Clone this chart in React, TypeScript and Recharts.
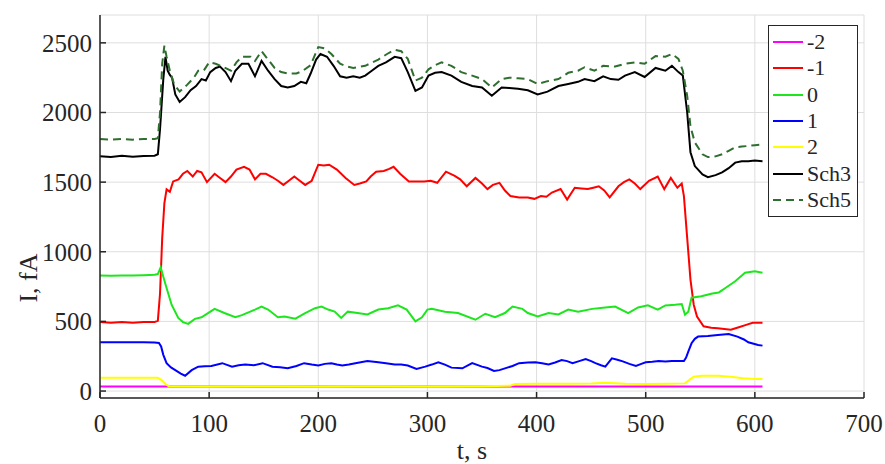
import React from 'react';
import { LineChart, Line, XAxis, YAxis, CartesianGrid, Legend } from 'recharts';

// time stamps (s) and currents (fA), one pair per series
const sch3T = [0, 10, 20, 30, 40, 50, 53, 55, 58, 60, 62, 64, 66, 69, 73, 78, 83, 88, 93, 97, 101, 106, 110, 115, 120, 124, 130, 136, 142, 148, 154, 160, 166, 172, 178, 184, 189, 193, 198, 202, 208, 214, 220, 226, 232, 238, 243, 249, 255, 262, 270, 276, 282, 289, 295, 301, 307, 313, 322, 331, 341, 350, 359, 368, 375, 383, 392, 401, 410, 420, 429, 438, 444, 453, 461, 468, 475, 481, 490, 499, 509, 518, 524, 530, 534, 538, 541, 545, 552, 557, 564, 570, 576, 582, 588, 594, 600, 607];
const sch3I = [1685, 1680, 1690, 1682, 1688, 1690, 1700, 1880, 2240, 2400, 2300, 2270, 2250, 2130, 2075, 2110, 2160, 2190, 2240, 2230, 2290, 2320, 2330, 2290, 2225, 2300, 2350, 2350, 2260, 2370, 2300, 2240, 2190, 2180, 2190, 2220, 2210, 2280, 2380, 2420, 2400, 2335, 2260, 2250, 2260, 2250, 2265, 2300, 2335, 2360, 2400, 2390, 2290, 2155, 2180, 2265, 2285, 2290, 2265, 2220, 2190, 2180, 2120, 2180, 2175, 2170, 2160, 2130, 2150, 2190, 2205, 2220, 2240, 2225, 2260, 2240, 2235, 2265, 2290, 2255, 2320, 2300, 2335, 2290, 2265, 2000, 1715, 1615, 1555, 1535, 1550, 1570, 1600, 1640, 1650, 1650, 1655, 1650];

const sch5T = [0, 10, 20, 30, 40, 50, 53, 55, 57, 59, 61, 64, 68, 73, 80, 86, 90, 95, 100, 106, 112, 120, 125, 130, 138, 142, 148, 154, 160, 166, 172, 180, 186, 193, 200, 206, 212, 220, 226, 232, 243, 255, 263, 270, 276, 282, 289, 295, 301, 307, 313, 322, 331, 341, 350, 359, 368, 375, 383, 392, 401, 410, 420, 429, 438, 444, 453, 461, 472, 481, 490, 499, 509, 518, 524, 530, 534, 538, 541, 545, 552, 557, 564, 570, 576, 582, 588, 594, 600, 607];
const sch5I = [1810, 1805, 1810, 1805, 1810, 1810, 1815, 2000, 2350, 2480, 2400, 2300, 2200, 2150, 2200, 2250, 2300, 2300, 2360, 2350, 2330, 2300, 2360, 2400, 2400, 2370, 2440, 2380, 2320, 2290, 2280, 2280, 2300, 2340, 2470, 2460, 2420, 2350, 2330, 2320, 2335, 2380, 2420, 2450, 2440, 2385, 2230, 2250, 2310, 2340, 2360, 2335, 2290, 2265, 2240, 2180, 2240, 2250, 2245, 2240, 2205, 2225, 2240, 2285, 2300, 2325, 2300, 2335, 2330, 2350, 2360, 2350, 2405, 2400, 2420, 2385, 2300, 2120, 1900, 1785, 1700, 1680, 1685, 1700, 1725, 1750, 1755, 1760, 1765, 1770];

const m1T = [0, 10, 20, 30, 40, 50, 53, 55, 57, 59, 61, 64, 67, 72, 76, 80, 85, 89, 93, 98, 105, 110, 115, 120, 125, 132, 137, 142, 147, 152, 158, 163, 168, 173, 178, 183, 188, 194, 200, 205, 210, 217, 225, 233, 238, 244, 248, 253, 260, 265, 269, 275, 283, 290, 297, 303, 309, 317, 325, 330, 336, 344, 350, 355, 360, 366, 371, 376, 384, 392, 398, 404, 409, 414, 422, 428, 435, 441, 447, 452, 457, 462, 467, 475, 480, 485, 490, 495, 503, 511, 517, 523, 529, 533, 535, 538, 541, 544, 547, 553, 560, 566, 572, 578, 586, 592, 598, 607];
const m1I = [495, 490, 495, 490, 495, 495, 505, 700, 1100, 1350, 1448, 1430, 1505, 1520, 1560, 1580, 1540, 1580, 1570, 1500, 1560, 1530, 1500, 1540, 1590, 1610, 1590, 1520, 1560, 1560, 1535, 1510, 1480, 1510, 1540, 1510, 1480, 1510, 1625, 1620, 1625, 1590, 1530, 1480, 1490, 1505, 1540, 1575, 1580, 1595, 1610, 1560, 1505, 1505, 1505, 1510, 1495, 1575, 1545, 1520, 1470, 1530, 1490, 1450, 1480, 1495, 1440, 1400, 1390, 1390, 1380, 1400, 1395, 1425, 1450, 1375, 1460, 1455, 1450, 1460, 1470, 1440, 1390, 1470, 1500, 1520, 1490, 1450, 1510, 1540, 1450, 1530, 1460, 1490, 1400, 1100, 800, 620, 535, 465, 455, 450, 445, 440, 460, 475, 490, 490];

const z0T = [0, 10, 20, 30, 40, 50, 53, 55.6, 58, 61, 65.6, 71.7, 76, 80.8, 87, 93, 99, 105, 114, 124, 130, 136, 142, 148, 154, 163, 169, 179, 188, 197, 203, 209, 215, 221, 227, 236, 245, 255, 264, 273, 281, 289, 295, 300, 304, 316, 328, 344, 353, 362, 371, 378, 387, 392, 401, 411, 420, 429, 438, 451, 463, 472, 484, 493, 502, 511, 518, 527, 533, 536, 539, 542, 551, 561, 567, 573, 582, 591, 600, 607];
const z0I = [830, 828, 830, 830, 832, 835, 840, 888, 820, 740, 620, 525, 495, 482, 518, 530, 560, 590, 560, 530, 545, 565, 585, 607, 585, 530, 535, 520, 560, 595, 607, 585, 570, 525, 570, 560, 550, 585, 595, 615, 585, 500, 530, 585, 590, 570, 560, 512, 555, 530, 560, 607, 590, 560, 535, 560, 550, 585, 570, 590, 600, 607, 560, 600, 615, 585, 615, 620, 625, 548, 570, 670, 680, 700, 708, 740, 788, 850, 860, 850];

const p1T = [0, 10, 20, 30, 40, 50, 54, 56, 58, 61, 65, 69, 74, 78, 84, 90, 96, 102, 112, 121, 127, 133, 141, 149, 158, 165, 172, 180, 187, 194, 200, 206, 212, 217, 222, 228, 234, 245, 255, 262, 270, 276, 282, 290, 298, 304, 310, 316, 322, 332, 341, 350, 355, 361, 366, 371, 378, 384, 392, 399, 405, 411, 417, 423, 428, 433, 439, 445, 450, 454, 459, 463, 469, 474, 479, 485, 491, 496, 500, 506, 512, 518, 524, 530, 535, 537, 539, 542, 545, 548, 557, 566, 576, 584, 590, 594, 603, 607];
const p1I = [350, 350, 350, 350, 350, 348, 345, 320, 260, 200, 170, 150, 125, 110, 150, 175, 178, 180, 200, 175, 185, 190, 185, 200, 175, 170, 163, 180, 200, 190, 183, 195, 200, 190, 183, 190, 200, 216, 207, 200, 190, 190, 183, 158, 175, 190, 207, 190, 168, 163, 200, 175, 165, 144, 150, 163, 180, 200, 205, 207, 200, 190, 205, 223, 215, 200, 215, 230, 215, 200, 185, 175, 235, 225, 213, 195, 180, 195, 207, 210, 216, 212, 216, 216, 216, 240, 283, 343, 375, 391, 396, 403, 410, 391, 370, 350, 331, 326];

const p2T = [0, 20, 40, 53, 56, 60, 63, 100, 150, 200, 250, 300, 350, 376, 380, 400, 430, 450, 463, 481, 500, 520, 536, 540, 544, 551, 567, 580, 589, 600, 607];
const p2I = [95, 95, 95, 95, 80, 50, 35, 33, 35, 33, 35, 33, 35, 38, 50, 52, 52, 55, 60, 52, 50, 52, 55, 80, 103, 110, 110, 100, 91, 86, 86];

const m2T = [0, 100, 200, 300, 400, 500, 607];
const m2I = [33, 33, 33, 33, 33, 33, 33];

const xTicks = [0, 100, 200, 300, 400, 500, 600, 700];
const yTicks = [0, 500, 1000, 1500, 2000, 2500];

const toPts = (t: number[], v: number[]) => t.map((x, i) => ({ t: x, v: v[i] }));

const FONT = '"Liberation Serif", "Times New Roman", serif';
const INK = '#262626';

const SERIES = [
  { name: '-2', data: toPts(m2T, m2I), color: '#ff00ff', dash: undefined },
  { name: '-1', data: toPts(m1T, m1I), color: '#ff0000', dash: undefined },
  { name: '0', data: toPts(z0T, z0I), color: '#1ee61e', dash: undefined },
  { name: '1', data: toPts(p1T, p1I), color: '#0000ff', dash: undefined },
  { name: '2', data: toPts(p2T, p2I), color: '#ffff00', dash: undefined },
  { name: 'Sch3', data: toPts(sch3T, sch3I), color: '#000000', dash: undefined },
  { name: 'Sch5', data: toPts(sch5T, sch5I), color: '#2f6e2f', dash: '8 5' },
];

const renderLegend = () => (
  <div
    style={{
      border: `1.5px solid ${INK}`,
      background: '#fff',
      padding: '3px 4px',
      width: 80,
      fontFamily: FONT,
      fontSize: 22,
      color: INK,
    }}
  >
    {SERIES.map(s => (
      <div key={s.name} style={{ display: 'flex', alignItems: 'center', height: 26.3 }}>
        <svg width={30} height={6} style={{ marginRight: 4 }}>
          <line x1={0} y1={3} x2={30} y2={3} stroke={s.color} strokeWidth={2} strokeDasharray={s.dash} />
        </svg>
        <span>{s.name}</span>
      </div>
    ))}
  </div>
);

export default function App() {
  return (
    <div style={{ position: 'absolute', left: 0, top: 0, width: 885, height: 464, background: '#fff' }}>
      <LineChart width={885} height={464} margin={{ top: 15, right: 21, bottom: 6, left: 40 }}>
        <CartesianGrid stroke="#dedede" />
        <XAxis
          type="number"
          dataKey="t"
          domain={[0, 700]}
          ticks={xTicks}
          interval={0}
          height={60}
          tickSize={-6}
          tickMargin={22}
          stroke={INK}
          strokeWidth={1.5}
          tick={{ fill: INK, fontSize: 25, fontFamily: FONT }}
          label={{
            content: () => (
              <text x={472} y={459} textAnchor="middle" fill={INK} fontSize={26} fontFamily={FONT}>
                t, s
              </text>
            ),
          }}
        />
        <YAxis
          type="number"
          domain={[-50, 2700]}
          ticks={yTicks}
          interval={0}
          width={60}
          tickSize={-6}
          tickMargin={14}
          stroke={INK}
          strokeWidth={1.5}
          tick={{ fill: INK, fontSize: 25, fontFamily: FONT }}
          label={{
            content: () => (
              <text x={37} y={278} transform="rotate(-90 37 278)" textAnchor="middle" fill={INK} fontSize={26} fontFamily={FONT}>
                I, fA
              </text>
            ),
          }}
        />
        {SERIES.map(s => (
          <Line
            key={s.name}
            data={s.data}
            dataKey="v"
            name={s.name}
            type="linear"
            stroke={s.color}
            strokeWidth={2}
            strokeDasharray={s.dash}
            dot={false}
            activeDot={false}
            isAnimationActive={false}
          />
        ))}
        <Legend
          layout="vertical"
          align="center"
          verticalAlign="middle"
          content={renderLegend}
          wrapperStyle={{ left: 768, top: 25, width: 88 }}
        />
      </LineChart>
    </div>
  );
}
